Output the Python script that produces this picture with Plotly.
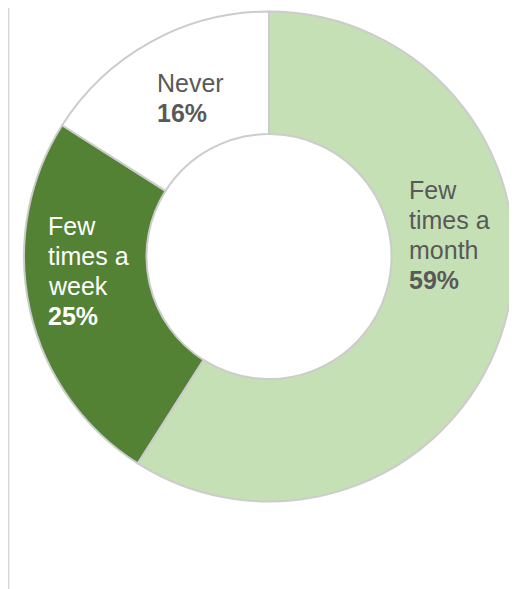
import plotly.graph_objects as go

categories = ["Few times a month", "Few times a week", "Never"]
values = [59, 25, 16]
label_lines = [["Few", "times a", "month"], ["Few", "times a", "week"], ["Never"]]
colors = ["#c5e0b4", "#548235", "#ffffff"]
text_colors = ["#595959", "#ffffff", "#595959"]
# label anchor: left x and first-line baseline (pixels in figure coords)
label_pos = [(400, 191), (39, 227), (148, 84)]
LINE_H = 30
FS = 25

W, H = 517, 589
fig = go.Figure()
cx, cy, r = 261, 248.5, 245
fig.add_trace(go.Pie(
    labels=categories, values=values, sort=False, direction="clockwise",
    hole=0.5, textinfo="none", hoverinfo="label+percent",
    marker=dict(colors=colors, line=dict(color="#cccccc", width=2)),
    domain=dict(x=[(cx - r) / W, (cx + r) / W], y=[1 - (cy + r) / H, 1 - (cy - r) / H]),
    showlegend=False,
))

total = sum(values)
for cat, v, lines, tc, (px, py) in zip(categories, values, label_lines, text_colors, label_pos):
    all_lines = lines + [f"<b>{round(100 * v / total)}%</b>"]
    for i, ln in enumerate(all_lines):
        base = py + i * LINE_H
        fig.add_annotation(
            x=px / W, y=1 - (base - 9) / H, xref="paper", yref="paper",
            xanchor="left", yanchor="middle", align="left", showarrow=False,
            text=ln, borderpad=0,
            font=dict(family="Liberation Sans, Arial, sans-serif", size=FS, color=tc),
        )

fig.add_shape(type="line", xref="paper", yref="paper",
              x0=0, x1=0, y0=0, y1=1,
              line=dict(color="#d9d9d9", width=3))

fig.update_layout(width=W, height=H, margin=dict(l=0, r=0, t=0, b=0),
                  paper_bgcolor="white", plot_bgcolor="white")
fig.write_html("out.html")
